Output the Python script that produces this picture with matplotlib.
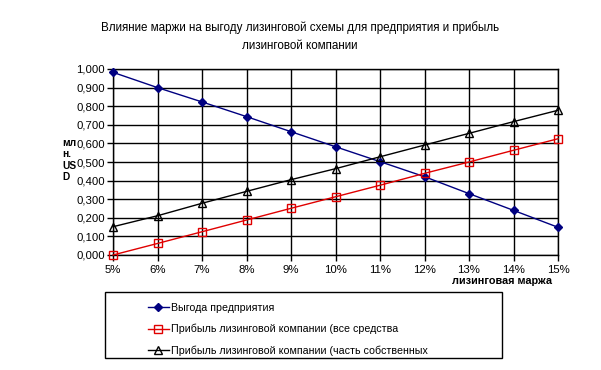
import matplotlib
matplotlib.use("Agg")
import matplotlib.pyplot as plt
from matplotlib.patches import Rectangle
from matplotlib.ticker import FuncFormatter

plt.rcParams['font.family'] = ['Liberation Sans', 'DejaVu Sans']

margins = [5, 6, 7, 8, 9, 10, 11, 12, 13, 14, 15]
tick_labels = ["5%", "6%", "7%", "8%", "9%", "10%", "11%", "12%", "13%", "14%", "15%"]
benefit = [0.982, 0.900, 0.823, 0.744, 0.663, 0.582, 0.502, 0.421, 0.330, 0.240, 0.149]
profit_all = [0.000, 0.062, 0.125, 0.188, 0.251, 0.313, 0.375, 0.439, 0.500, 0.563, 0.625]
profit_own = [0.152, 0.211, 0.278, 0.342, 0.405, 0.464, 0.528, 0.591, 0.654, 0.717, 0.778]
labels = ["Выгода предприятия",
          "Прибыль лизинговой компании (все средства",
          "Прибыль лизинговой компании (часть собственных"]

W, H = 601, 370
fig = plt.figure(figsize=(W / 100, H / 100), dpi=100)
ax = fig.add_axes([113 / W, 1 - 255 / H, (558 - 113) / W, (255 - 69) / H])

l1, = ax.plot(margins, benefit, color="#000080", lw=1, marker="D", ms=4.5,
              mfc="#000080", mec="#000080", clip_on=False, zorder=3)
l2, = ax.plot(margins, profit_all, color="#e00000", lw=1, marker="s", ms=5.5,
              mfc="none", mec="#e00000", clip_on=False, zorder=3)
l3, = ax.plot(margins, profit_own, color="black", lw=1, marker="^", ms=5.5,
              mfc="none", mec="black", clip_on=False, zorder=3)

ax.set_xlim(5, 15)
ax.set_ylim(0, 1.0)
ax.set_xticks(margins)
ax.set_xticklabels(tick_labels)
ax.set_yticks([i / 10 for i in range(11)])
ax.yaxis.set_major_formatter(FuncFormatter(lambda v, p: f"{v:.3f}".replace(".", ",")))
ax.grid(True, color="black", lw=1)
ax.set_axisbelow(True)
for s in ax.spines.values():
    s.set_color("black")
    s.set_linewidth(1)
ax.tick_params(axis="both", direction="out", length=4, width=1, color="black",
               labelsize=8.2, pad=2)
ax.tick_params(axis="x", pad=3)

fig.text(300 / W, 1 - 36.5 / H,
         "Влияние маржи на выгоду лизинговой схемы для предприятия и прибыль\nлизинговой компании",
         ha="center", va="center", fontsize=8.4, linespacing=1.6)

fig.text(552 / W, 1 - 281 / H, "лизинговая маржа", ha="right", va="center",
         fontsize=7.8, fontweight="bold")
fig.text(62 / W, 1 - 160 / H, "мл\nн.\nUS\nD", ha="left", va="center",
         fontsize=7.3, fontweight="bold", linespacing=1.15)

fig.patches.append(Rectangle((105 / W, 1 - 358 / H), (502 - 105) / W, (358 - 292) / H,
                             transform=fig.transFigure, fill=False,
                             edgecolor="black", lw=1))
fig.legend([l1, l2, l3], labels, loc="upper left",
           bbox_to_anchor=(137 / W, 1 - 292 / H), frameon=False,
           fontsize=7.7, handlelength=2.0, handletextpad=0.2,
           labelspacing=1.05, borderpad=0.5)

fig.savefig("out.png", dpi=100)
